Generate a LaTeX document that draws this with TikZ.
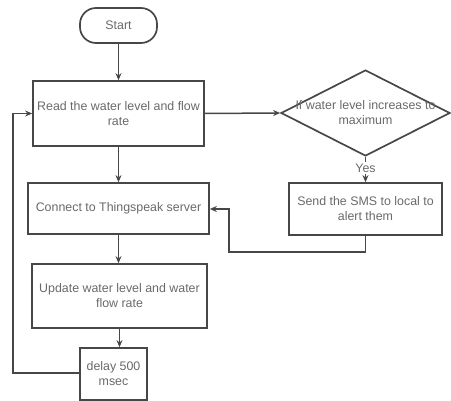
\documentclass[tikz,border=0pt]{standalone}
\usepackage{fontspec}
\setmainfont{Liberation Sans}
\usetikzlibrary{shapes.geometric,arrows.meta}
\definecolor{linec}{HTML}{474747}
\definecolor{textc}{HTML}{6A6A6A}
\tikzset{
  shapebox/.style={draw=linec, line width=1.7pt, fill=white, inner sep=0pt},
  txt/.style={text=textc, font=\fontsize{12.4}{15}\selectfont, align=center, inner sep=0pt},
  conn/.style={draw=linec, line width=1.5pt, -{Stealth[length=7pt,width=6pt]}},
  plain/.style={draw=linec, line width=1.5pt},
}
\begin{document}
\begin{tikzpicture}[x=1pt,y=-1pt]
\useasboundingbox (0,0) rectangle (451,401);
% shapes
\node[shapebox, rounded corners=16pt, minimum width=77, minimum height=35] (start) at (118.5,25.5) {};
\node[shapebox, minimum width=171, minimum height=65] (read) at (118.5,113.5) {};
\node[shapebox, minimum width=181, minimum height=51] (conn) at (118.5,208.5) {};
\node[shapebox, minimum width=175, minimum height=64] (upd) at (119.5,296) {};
\node[shapebox, minimum width=67, minimum height=52] (delay) at (113.5,374) {};
\node[shapebox, diamond, minimum width=169, minimum height=86] (dec) at (365.5,113) {};
\node[shapebox, minimum width=153, minimum height=52] (sms) at (365.5,209) {};
% texts
\node[txt] (start-t) at (start) {Start};
\node[txt] (read-t) at (read) {Read the water level and flow\\rate};
\node[txt] (conn-t) at (conn) {Connect to Thingspeak server};
\node[txt] (upd-t) at (upd) {Update water level and water\\flow rate};
\node[txt] (delay-t) at (delay) {delay 500\\msec};
\node[txt] (dec-t) at (dec) {If water level increases to\\maximum};
\node[txt] (sms-t) at (sms) {Send the SMS to local to\\alert them};
% connectors
\draw[conn] (start) -- (read);
\draw[conn] (read) -- (conn);
\draw[conn] (conn.south) -- (conn.south |- upd.north);
\draw[conn] (upd.south) -- (upd.south |- delay.north);
\draw[conn] (read.east) -- (dec.west);
\node[txt, fill=white, inner sep=1pt] (yes) at (365.5,168) {Yes};
\draw[plain] (dec.south) -- (yes.north);
\draw[conn] (yes.south) -- (sms.north);
\coordinate (c1) at (365.5,252);
\coordinate (c2) at (229,252);
\coordinate (c3) at (229,209);
\draw[conn] (sms.south) -- (c1) -- (c2) -- (c3) -- (conn.east |- c3);
\coordinate (l1) at (13,373);
\coordinate (l2) at (13,113.5);
\draw[conn] (delay.west |- l1) -- (l1) -- (l2) -- (read.west);
\end{tikzpicture}
\end{document}
